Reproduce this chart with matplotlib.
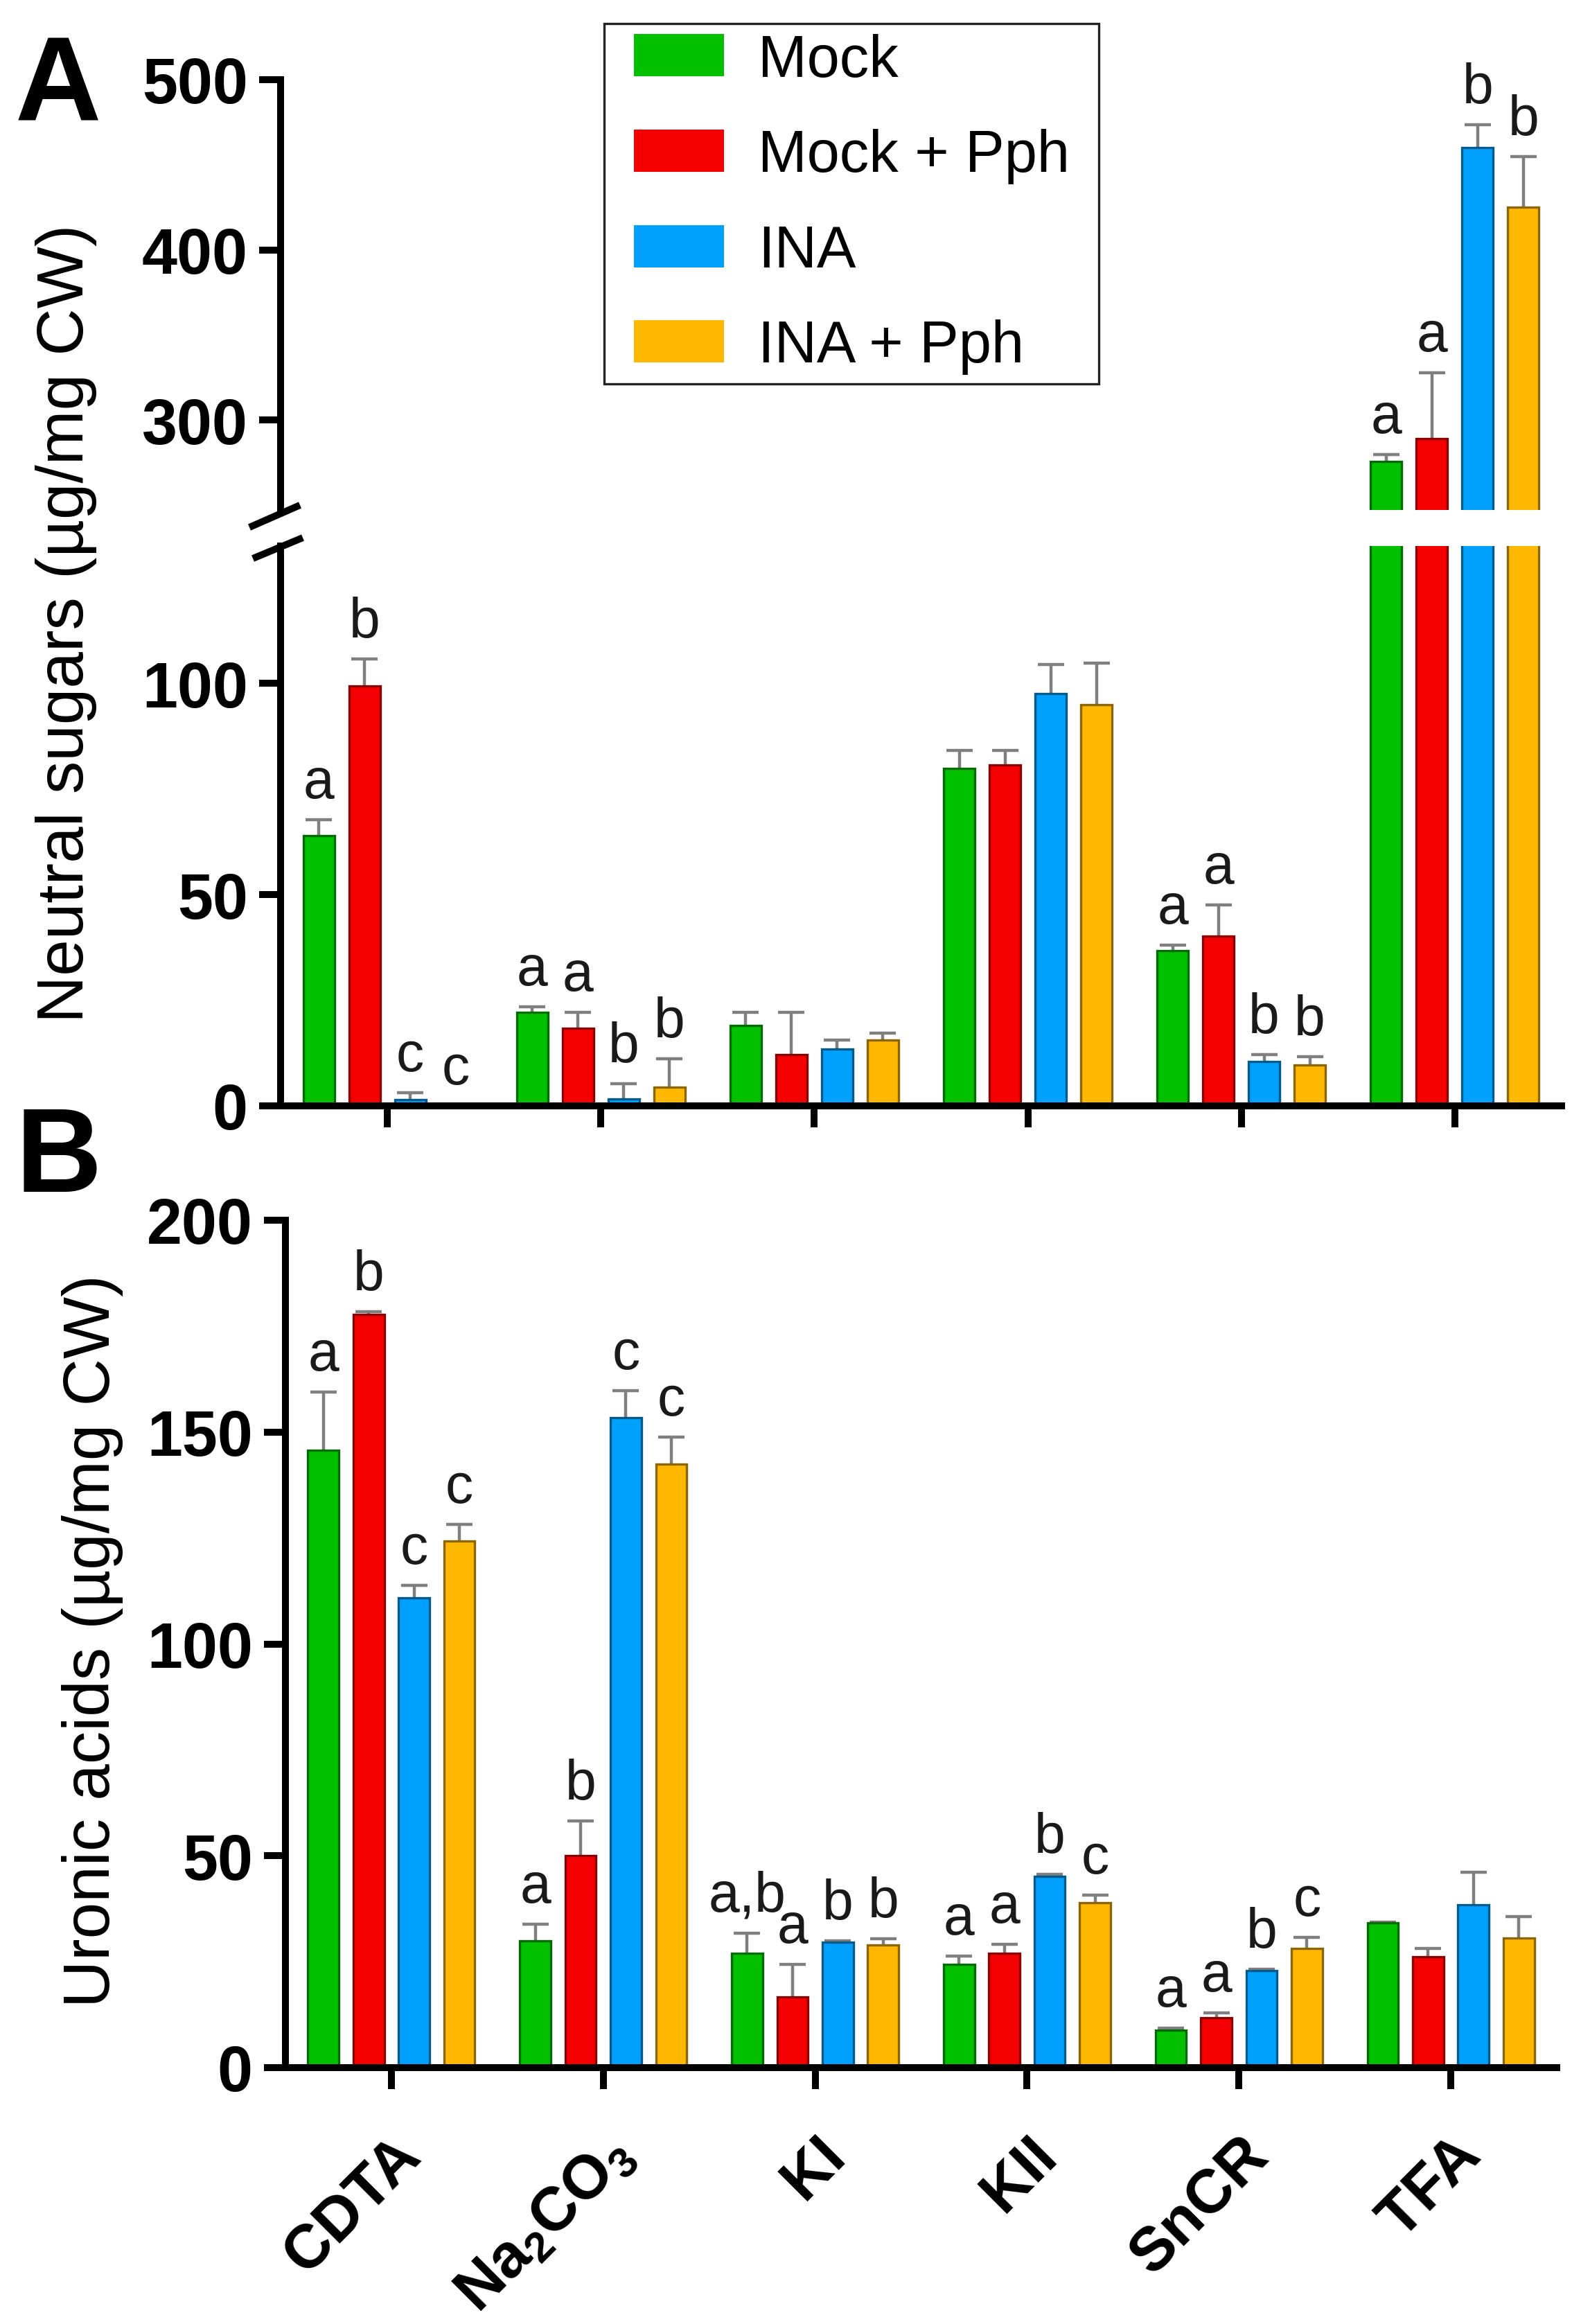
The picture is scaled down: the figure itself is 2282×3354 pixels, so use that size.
import numpy as np
import matplotlib
matplotlib.use('Agg')
import matplotlib.pyplot as plt
import matplotlib.patches as mpatches
from matplotlib.legend_handler import HandlerPatch
from matplotlib.lines import Line2D

plt.rcParams['font.family'] = ['Liberation Sans', 'DejaVu Sans']
plt.rcParams['mathtext.fontset'] = 'custom'
plt.rcParams['mathtext.rm'] = 'Liberation Sans'
plt.rcParams['mathtext.bf'] = 'Liberation Sans:bold'

# ---------------- data ----------------
fractions = ['CDTA', r'$\mathbf{Na_2CO_3}$', 'KI', 'KII', 'SnCR', 'TFA']
treatments = ['Mock', 'Mock + Pph', 'INA', 'INA + Pph']
colors = ['#00C000', '#F50000', '#00A0FF', '#FFB800']
edge_colors = ['#006B00', '#8A0000', '#005A8C', '#8C6400']

# Panel A: neutral sugars (ug/mg CW)
ns_mock = [64.0, 22.1, 19.0, 79.8, 36.7, 275.6]
ns_mock_pph = [99.3, 18.3, 12.2, 80.7, 40.2, 289.3]
ns_ina = [1.4, 1.7, 13.4, 97.6, 10.5, 460.3]
ns_ina_pph = [0.0, 4.5, 15.5, 95.0, 9.7, 425.2]
ns_err_mock = [3.8, 1.3, 3.1, 4.3, 1.4, 4.4]
ns_err_mock_pph = [6.4, 3.8, 9.9, 3.4, 7.4, 38.5]
ns_err_ina = [1.7, 3.5, 2.1, 6.9, 1.7, 13.2]
ns_err_ina_pph = [0.0, 6.7, 1.7, 9.8, 2.0, 29.5]
ns_let_mock = ['a', 'a', '', '', 'a', 'a']
ns_let_mock_pph = ['b', 'a', '', '', 'a', 'a']
ns_let_ina = ['c', 'b', '', '', 'b', 'b']
ns_let_ina_pph = ['c', 'b', '', '', 'b', 'b']

# Panel B: uronic acids (ug/mg CW)
ua_mock = [145.7, 30.0, 27.0, 24.3, 8.9, 34.1]
ua_mock_pph = [177.7, 50.0, 16.7, 27.0, 11.8, 26.1]
ua_ina = [110.9, 153.4, 29.6, 45.2, 22.9, 38.4]
ua_ina_pph = [124.3, 142.5, 28.9, 38.9, 28.2, 30.5]
ua_err_mock = [13.8, 3.9, 4.8, 2.1, 0.5, 0.3]
ua_err_mock_pph = [0.7, 8.2, 7.6, 2.1, 1.2, 2.1]
ua_err_ina = [2.9, 6.4, 0.4, 0.5, 0.3, 7.7]
ua_err_ina_pph = [3.9, 6.25, 1.5, 1.8, 2.5, 5.2]
ua_let_mock = ['a', 'a', 'a,b', 'a', 'a', '']
ua_let_mock_pph = ['b', 'b', 'a', 'a', 'a', '']
ua_let_ina = ['c', 'c', 'b', 'b', 'b', '']
ua_let_ina_pph = ['c', 'c', 'b', 'c', 'c', '']

ns_means = [ns_mock, ns_mock_pph, ns_ina, ns_ina_pph]
ns_errs = [ns_err_mock, ns_err_mock_pph, ns_err_ina, ns_err_ina_pph]
ns_lets = [ns_let_mock, ns_let_mock_pph, ns_let_ina, ns_let_ina_pph]
ua_means = [ua_mock, ua_mock_pph, ua_ina, ua_ina_pph]
ua_errs = [ua_err_mock, ua_err_mock_pph, ua_err_ina, ua_err_ina_pph]
ua_lets = [ua_let_mock, ua_let_mock_pph, ua_let_ina, ua_let_ina_pph]

# ---------------- layout ----------------
W, H, DPI = 2282, 3355, 200
fig = plt.figure(figsize=(W / DPI, H / DPI), dpi=DPI)


def fx(p):
    return p / W


def fy(p):
    return 1 - p / H


axA_low = fig.add_axes([fx(405), fy(1597), (2254 - 405) / W, (1597 - 789) / H])
axA_up = fig.add_axes([fx(405), fy(737), (2254 - 405) / W, (737 - 116) / H])
axB = fig.add_axes([fx(412), fy(2985), (2247 - 412) / W, (2985 - 1762) / H])

x = np.arange(len(fractions))
offsets = np.array([-1.5, -0.5, 0.5, 1.5]) * 0.214
bw = 0.146
SPINE_LW = 3.6


def draw(ax, means, errs, lets):
    for i in range(4):
        m = np.array(means[i], dtype=float)
        e = np.array(errs[i], dtype=float)
        bc = ax.bar(x + offsets[i], m, bw, color=colors[i], edgecolor=edge_colors[i],
                    linewidth=1.2, zorder=2,
                    yerr=[np.zeros_like(e), e],
                    error_kw=dict(ecolor='#7f7f7f', elinewidth=1.6, capsize=7,
                                  capthick=1.6, zorder=1.9))
        caps = bc.errorbar.lines[1]
        if len(caps) > 0:
            caps[0].set_visible(False)
        for j in range(len(fractions)):
            if lets[i][j]:
                ax.annotate(lets[i][j], (x[j] + offsets[i], m[j] + e[j]),
                            xytext=(0, 11.5), textcoords='offset points',
                            ha='center', va='baseline', fontsize=29,
                            color='#1a1a1a')


draw(axA_low, ns_means, ns_errs, ns_lets)
draw(axA_up, ns_means, ns_errs, ns_lets)
draw(axB, ua_means, ua_errs, ua_lets)

for ax in (axA_low, axA_up, axB):
    ax.set_xlim(-0.5, 5.5)
    ax.spines['top'].set_visible(False)
    ax.spines['right'].set_visible(False)
    for s in ('left', 'bottom'):
        ax.spines[s].set_linewidth(SPINE_LW)
    ax.tick_params(axis='both', width=SPINE_LW, length=11, direction='out')
    ax.tick_params(axis='y', labelsize=33, pad=6)

axA_low.set_ylim(0, 132.5)
axA_low.set_yticks([0, 50, 100])
axA_low.set_xticks(x)
axA_low.set_xticklabels([])

axA_up.set_ylim(247.3, 500)
axA_up.set_yticks([300, 400, 500])
axA_up.spines['bottom'].set_visible(False)
axA_up.set_xticks([])

axB.set_ylim(0, 200)
axB.set_yticks([0, 50, 100, 150, 200])
axB.set_xticks(x)
axB.set_xticklabels(fractions)
axB.tick_params(axis='x', labelsize=32, pad=19)
for lab in axB.get_xticklabels():
    lab.set_rotation(45)
    lab.set_ha('right')
    lab.set_va('top')
    lab.set_rotation_mode('anchor')
    lab.set_fontweight('bold')

for ax in (axA_low, axA_up, axB):
    for lab in ax.get_yticklabels():
        lab.set_fontweight('bold')

# axis break marks
for (x0, y0, x1, y1) in [(360, 762, 433, 730), (365, 807, 437, 777)]:
    fig.add_artist(Line2D([fx(x0), fx(x1)], [fy(y0), fy(y1)], transform=fig.transFigure,
                          color='black', lw=SPINE_LW, solid_capstyle='butt'))

# axis labels
fig.text(fx(96), fy(900), 'Neutral sugars (µg/mg CW)', rotation=90,
         ha='center', va='center', fontsize=34)
fig.text(fx(134), fy(2368), 'Uronic acids (µg/mg CW)', rotation=90,
         ha='center', va='center', fontsize=34)

# panel letters
fig.text(fx(22), fy(174), 'A', fontsize=62, fontweight='bold', va='baseline', ha='left')
fig.text(fx(22), fy(1720), 'B', fontsize=62, fontweight='bold', va='baseline', ha='left')


# legend
def make_rect(legend, orig_handle, xdescent, ydescent, width, height, fontsize):
    return mpatches.Rectangle((-xdescent + 10.5, -ydescent), 47, height)


handles = [mpatches.Patch(facecolor=c, edgecolor='none') for c in colors]
leg = fig.legend(handles, treatments, loc='upper left',
                 bbox_to_anchor=(fx(872), fy(556), (1586 - 872) / W, (556 - 35) / H),
                 bbox_transform=fig.transFigure, mode='expand', borderaxespad=0,
                 borderpad=0.16, handlelength=1.92, handleheight=0.73,
                 handletextpad=0.54, labelspacing=0.68, fontsize=30.5,
                 fancybox=False, framealpha=1,
                 handler_map={mpatches.Patch: HandlerPatch(patch_func=make_rect)})
leg.get_frame().set_edgecolor('#222222')
leg.get_frame().set_linewidth(1.2)

fig.savefig('out.png', dpi=DPI)
